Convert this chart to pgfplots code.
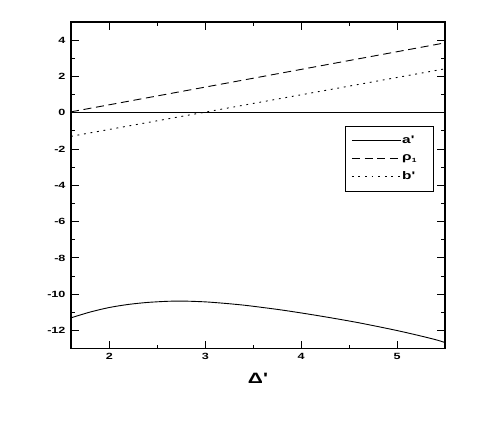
\documentclass[border=0pt]{standalone}
\usepackage{fontspec}
\setmainfont{Liberation Sans}
\newfontfamily\widefont[FakeStretch=1.4]{Liberation Sans}
\usepackage{pgfplots}
\pgfplotsset{compat=1.18}

\begin{document}
\begin{tikzpicture}[x=1pt,y=1pt]
\useasboundingbox (0,0) rectangle (491,436);
\begin{axis}[
    at={(71pt,87.3pt)}, anchor=south west,
    scale only axis,
    width=374pt, height=326.7pt,
    xmin=1.6, xmax=5.5,
    ymin=-13, ymax=5,
    xtick={2,3,4,5},
    ytick={-12,-10,...,4},
    minor xtick={2.5,3.5,4.5},
    minor ytick={-13,-11,...,5},
    tick align=inside,
    major tick length=8pt,
    minor tick length=4pt,
    axis line style={line width=1.2pt},
    every tick/.style={black, line width=0.9pt},
    /pgf/number format/assume math mode=true,
    ticklabel style={font=\widefont\bfseries\fontsize{9}{10}\selectfont},
    yticklabel style={xshift=-2pt},
    xticklabel style={yshift=-1pt},
    xlabel={\widefont\bfseries\fontsize{15}{16}\selectfont Δ'},
    xlabel style={yshift=-7pt},
    legend cell align=left,
    legend style={at={(0.733,0.683)}, anchor=north west,
        draw=black, line width=0.6pt,
        font=\widefont\bfseries\fontsize{11}{13}\selectfont,
        inner xsep=6pt, inner ysep=9pt,
        row sep=7.5pt,
        nodes={inner sep=1pt},
        text width=24pt},
    legend image code/.code={
        \draw[#1, line width=0.8pt] (0pt,0pt) -- (49pt,0pt);
    },
]
\addplot[black, line width=0.9pt, smooth] coordinates {
    (1.6,-11.30) (1.8,-10.98) (2.0,-10.73) (2.2,-10.56) (2.4,-10.45)
    (2.6,-10.39) (2.7,-10.38) (2.8,-10.38) (3.0,-10.42) (3.2,-10.50)
    (3.4,-10.60) (3.6,-10.73) (3.8,-10.87) (4.0,-11.03) (4.2,-11.20)
    (4.4,-11.38) (4.6,-11.57) (4.8,-11.78) (5.0,-12.00) (5.2,-12.24)
    (5.4,-12.50) (5.5,-12.66)
};
\addlegendentry{a'}
\addplot[black, line width=0.9pt, dash pattern=on 8pt off 4.7pt] coordinates {
    (1.6,0.05) (5.5,3.85)
};
\addlegendentry{ρ\raisebox{-2pt}{\fontsize{6}{7}\selectfont 1}}
\addplot[black, line width=0.9pt, dash pattern=on 1.8pt off 4.8pt] coordinates {
    (1.6,-1.30) (5.5,2.42)
};
\addlegendentry{b'}
\addplot[black, line width=1.2pt, forget plot] coordinates {
    (1.6,0) (5.5,0)
};
\end{axis}
\end{tikzpicture}
\end{document}
